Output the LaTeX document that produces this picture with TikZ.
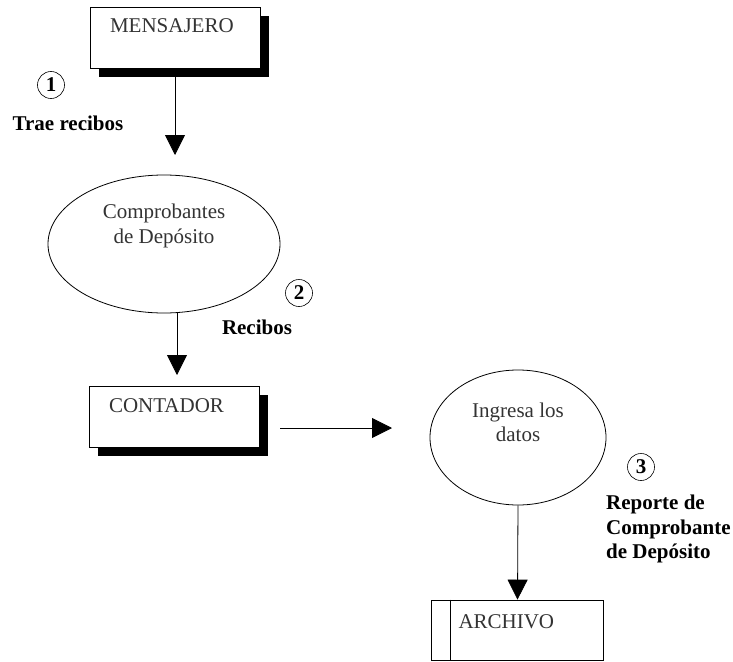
\documentclass[tikz,border=0pt]{standalone}
\usepackage{fontspec}
\setmainfont{Liberation Serif}
\usetikzlibrary{arrows.meta,shapes.geometric,shadows}

\newcommand{\bigfont}{\fontsize{21}{24.5}\selectfont}

\tikzset{
	actor/.style={rectangle, draw, fill=white, line width=0.8pt, text=black!80, text width=130pt, align=left, inner xsep=20pt, inner ysep=2pt, text height=24pt, text depth=33pt, drop shadow={shadow xshift=9pt, shadow yshift=-9pt, fill=black, opacity=1}},
	store/.style={rectangle, draw, fill=white, line width=0.8pt, text=black!80, text width=118pt, align=left, inner xsep=27pt, inner ysep=2pt, text height=26pt, text depth=30pt},
	process/.style={ellipse, draw, line width=0.8pt, minimum width=#1, minimum height=138pt},
	process/.default=232pt,
	num/.style={circle, draw, line width=0.6pt, minimum size=27pt, inner sep=1pt, font=\bigfont\bfseries},
	flowlabel/.style={font=\bigfont\bfseries, align=left},
	flow/.style={line width=0.8pt, -{Triangle[width=20pt, length=20pt]}}
}

\begin{document}
\begin{tikzpicture}[x=1pt, y=-1pt, font=\bigfont]
		\useasboundingbox (0, 0) rectangle (733, 661);
		
		% Entities
		% Messenger
		\node[actor] (mensajero) at (175, 37.5) {MENSAJERO};
		
		% Accountant
		\node[actor] (contador) at (174, 416.5) {CONTADOR};
		
		% File store
		\node[store] (archivo) at (517.5, 630) {ARCHIVO};
		\draw[line width=0.8pt] ([xshift=19pt]archivo.north west) -- ([xshift=19pt]archivo.south west);
		
		% Processes
		\node[process] (comprobantes) at (164, 244) [label={[align=center, text=black!80, yshift=18pt]center:Comprobantes\\de Depósito}] {};
		\node[process=176pt, minimum height=135pt] (datos) at (518, 437.5) [label={[align=center, text=black!80, yshift=15pt]center:Ingresa los\\datos}] {};
		
		% Arrow ends
		\coordinate (tip1) at (175, 155);
		\coordinate (tip2) at (177, 375);
		\coordinate (tail3) at (280, 428);
		\coordinate (tip3) at (392, 428);
		
		% Flows
		\draw[flow] (mensajero.south) -- (tip1);
		\draw[flow] ([xshift=13pt]comprobantes.south) -- (tip2);
		\draw[flow] (tail3) -- (tip3);
		\draw[flow] (datos.south) -- (archivo.north);
		
		% Flow labels
		\node[num] (num1) at (51, 85) {1};
		\node[flowlabel] (trae) at (68, 123) {Trae recibos};
		
		\node[num] (num2) at (299, 293) {2};
		\node[flowlabel] (recibos) at (257, 327) {Recibos};
		
		\node[num] (num3) at (641, 467) {3};
		\node[flowlabel, anchor=west, inner sep=2pt] (reporte) at (604, 529) {Reporte de\\Comprobante\\de Depósito};
		
	\end{tikzpicture}
\end{document}
